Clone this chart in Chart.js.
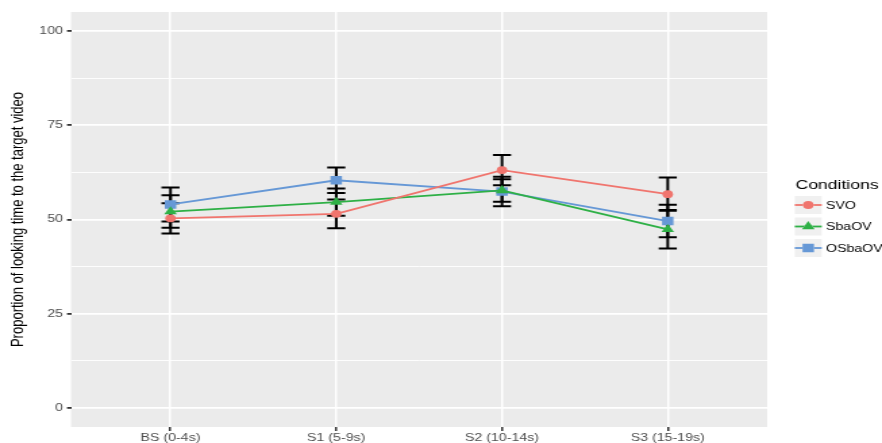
<!DOCTYPE html>
<html>
<head>
<meta charset="utf-8">
<script src="https://cdn.jsdelivr.net/npm/chart.js@4/dist/chart.umd.min.js"></script>
<style>
  body { margin: 0; background: #fff; overflow: hidden; }
  /* the reference image is stretched sideways, so the whole chart is too */
  #wrap { width: 653px; height: 443px; transform: scaleX(1.3507); transform-origin: 0 0; }
</style>
</head>
<body>
<div id="wrap"><canvas id="lookingChart" width="653" height="443"></canvas></div>
<script>
// Time windows on the x axis
const categories = ['BS (0-4s)', 'S1 (5-9s)', 'S2 (10-14s)', 'S3 (15-19s)'];
const yTicks = [0, 25, 50, 75, 100];
const yMinorTicks = [12.5, 37.5, 62.5, 87.5];

// Mean proportion of looking time per condition
const svo = [50.3, 51.5, 63.1, 56.7];
const sbaov = [52.1, 54.6, 57.7, 47.4];
const osbaov = [54.0, 60.4, 57.4, 49.6];

// Half length of each error bar
const svoErr = [4.0, 3.8, 4.0, 4.4];
const sbaovErr = [4.3, 3.6, 3.0, 5.1];
const osbaovErr = [4.5, 3.4, 3.9, 4.3];

const FONT = '"Liberation Sans", Arial, sans-serif';

function makeSet(label, values, errors, color, style, radius) {
    return {
        label: label,
        data: values.map((v, i) => ({ x: i, y: v })),
        errors: errors,
        borderColor: color,
        backgroundColor: color,
        borderWidth: 1.8,
        pointStyle: style,
        pointRadius: radius,
        pointHoverRadius: radius,
        pointBorderWidth: 0,
        tension: 0
    };
}

// grey panel behind the grid
const panelBackground = {
    id: 'panelBackground',
    beforeDraw(chart) {
        const { ctx, chartArea: a } = chart;
        ctx.save();
        ctx.fillStyle = '#ebebeb';
        ctx.fillRect(a.left, a.top, a.right - a.left, a.bottom - a.top);
        ctx.restore();
    }
};

// black error bars, drawn under lines and points
const errorBars = {
    id: 'errorBars',
    beforeDatasetsDraw(chart) {
        const { ctx, scales } = chart;
        ctx.save();
        ctx.strokeStyle = '#000';
        ctx.lineWidth = 2;
        chart.data.datasets.forEach(ds => {
            ds.data.forEach((p, i) => {
                const x = scales.x.getPixelForValue(p.x);
                const top = scales.y.getPixelForValue(p.y + ds.errors[i]);
                const bottom = scales.y.getPixelForValue(p.y - ds.errors[i]);
                ctx.beginPath();
                ctx.moveTo(x, top); ctx.lineTo(x, bottom);
                ctx.moveTo(x - 6.7, top); ctx.lineTo(x + 6.7, top);
                ctx.moveTo(x - 6.7, bottom); ctx.lineTo(x + 6.7, bottom);
                ctx.stroke();
            });
        });
        ctx.restore();
    }
};

// ggplot style legend on the right
const sideLegend = {
    id: 'sideLegend',
    afterDraw(chart) {
        const ctx = chart.ctx;
        const keyY = [205, 226.5, 248];
        ctx.save();
        ctx.fillStyle = '#000';
        ctx.font = '13px ' + FONT;
        ctx.textBaseline = 'middle';
        ctx.fillText('Conditions', 589, 185.5);
        chart.data.datasets.forEach((ds, i) => {
            const y = keyY[i];
            ctx.fillStyle = '#f0f0f0';
            ctx.fillRect(588.4, y - 9, 20, 18);
            ctx.strokeStyle = ds.borderColor;
            ctx.lineWidth = 1.8;
            ctx.beginPath();
            ctx.moveTo(588.4, y); ctx.lineTo(608.4, y);
            ctx.stroke();
            Chart.helpers.drawPoint(ctx, {
                pointStyle: ds.pointStyle,
                radius: ds.pointRadius,
                borderWidth: 0,
                rotation: 0
            }, 598.4, y);
            ctx.fillStyle = ds.backgroundColor;
            ctx.fill();
            ctx.fillStyle = '#000';
            ctx.font = '10.5px ' + FONT;
            ctx.fillText(ds.label, 611.5, y + 1);
        });
        ctx.restore();
    }
};

const ctx = document.getElementById('lookingChart').getContext('2d');

const lookingChart = new Chart(ctx, {
    type: 'line',
    data: {
        datasets: [
            makeSet('SVO', svo, svoErr, '#f0756e', 'circle', 3.9),
            makeSet('SbaOV', sbaov, sbaovErr, '#2eb046', 'triangle', 5.4),
            makeSet('OSbaOV', osbaov, osbaovErr, '#6698d6', 'rect', 6)
        ]
    },
    options: {
        responsive: false,
        animation: false,
        layout: { padding: { top: 12, right: 85, left: 0, bottom: 0 } },
        plugins: {
            legend: { display: false },
            tooltip: { enabled: false }
        },
        scales: {
            x: {
                type: 'linear',
                min: -0.6,
                max: 3.6,
                afterBuildTicks: s => { s.ticks = categories.map((c, i) => ({ value: i })); },
                afterFit: s => { s.height = 16; },
                border: { display: false },
                grid: { color: '#fff', lineWidth: 1.5, tickColor: '#333', tickLength: 4 },
                ticks: {
                    callback: v => categories[v],
                    font: { family: FONT, size: 10.5 },
                    color: '#4d4d4d',
                    padding: 1,
                    maxRotation: 0,
                    autoSkip: false
                }
            },
            y: {
                min: -5,
                max: 105,
                afterBuildTicks: s => {
                    s.ticks = yTicks.concat(yMinorTicks).sort((a, b) => a - b).map(v => ({ value: v }));
                },
                afterFit: s => { s.width = 52.6; },
                border: { display: false },
                grid: {
                    color: '#fff',
                    lineWidth: c => (yTicks.includes(c.tick.value) ? 1.8 : 0.9),
                    tickColor: c => (yTicks.includes(c.tick.value) ? '#333' : 'rgba(0,0,0,0)'),
                    tickLength: 3
                },
                ticks: {
                    callback: v => (yTicks.includes(v) ? v : ''),
                    font: { family: FONT, size: 10.5 },
                    color: '#4d4d4d',
                    padding: 3,
                    autoSkip: false
                },
                title: {
                    display: true,
                    text: 'Proportion of looking time to the target video',
                    font: { family: FONT, size: 13 },
                    color: '#000',
                    padding: { top: 5.5, bottom: 0 }
                }
            }
        }
    },
    plugins: [panelBackground, errorBars, sideLegend]
});
</script>
</body>
</html>
